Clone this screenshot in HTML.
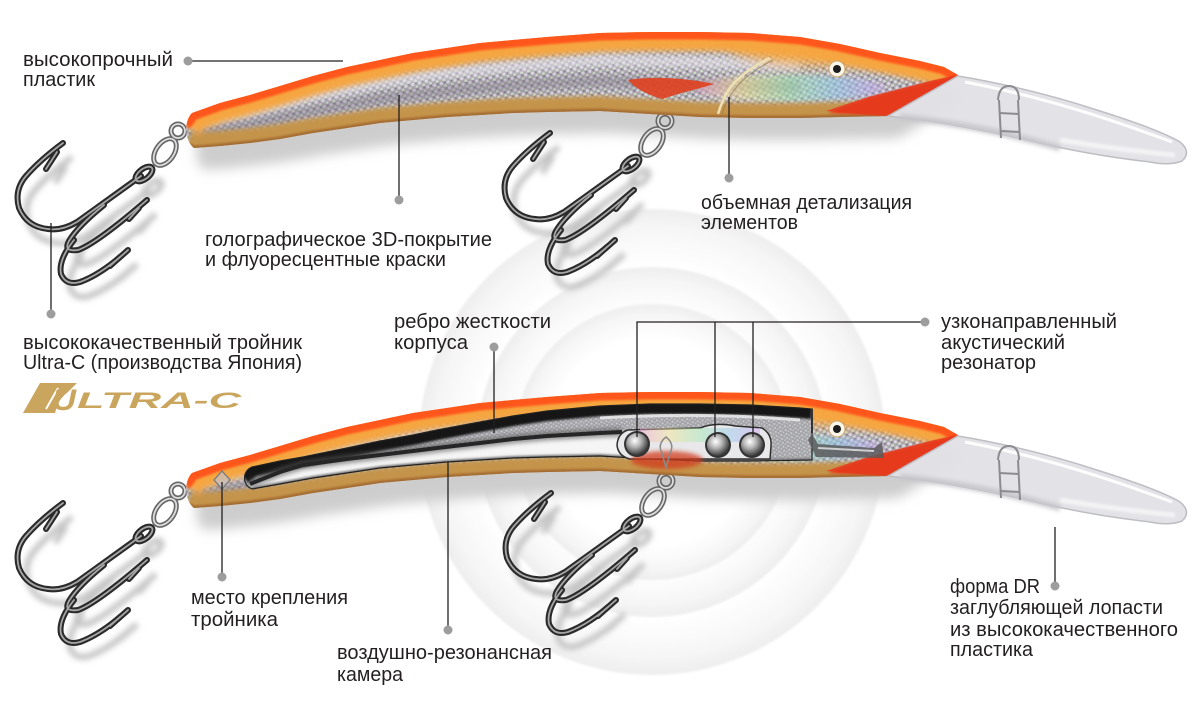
<!DOCTYPE html>
<html><head><meta charset="utf-8">
<style>html,body{margin:0;padding:0;background:#fff;}svg{display:block}</style>
</head><body>
<svg width="1200" height="717" viewBox="0 0 1200 717" xmlns="http://www.w3.org/2000/svg" xmlns:xlink="http://www.w3.org/1999/xlink" font-family="'Liberation Sans', 'DejaVu Sans', sans-serif">
<defs>
  <filter id="b1" filterUnits="userSpaceOnUse" x="-100" y="-100" width="1400" height="917"><feGaussianBlur stdDeviation="1"/></filter>
  <filter id="b2" filterUnits="userSpaceOnUse" x="-100" y="-100" width="1400" height="917"><feGaussianBlur stdDeviation="2"/></filter>
  <filter id="b3" filterUnits="userSpaceOnUse" x="-100" y="-100" width="1400" height="917"><feGaussianBlur stdDeviation="3"/></filter>
  <filter id="b6" filterUnits="userSpaceOnUse" x="-100" y="-100" width="1400" height="917"><feGaussianBlur stdDeviation="6"/></filter>

  <radialGradient id="disc" cx="0.5" cy="0.5" r="0.5">
    <stop offset="0" stop-color="#ffffff"/>
    <stop offset="0.75" stop-color="#ffffff"/>
    <stop offset="0.92" stop-color="#f6f6f6"/>
    <stop offset="1" stop-color="#eeeeee"/>
  </radialGradient>
  <radialGradient id="ball" cx="0.4" cy="0.35" r="0.65">
    <stop offset="0" stop-color="#ffffff"/>
    <stop offset="0.45" stop-color="#b5b5b5"/>
    <stop offset="1" stop-color="#3a3a3a"/>
  </radialGradient>
  <linearGradient id="rainbow" x1="0" x2="1" y1="0" y2="0">
    <stop offset="0" stop-color="#f0a0d0"/>
    <stop offset="0.25" stop-color="#f5e690"/>
    <stop offset="0.5" stop-color="#a0e8b0"/>
    <stop offset="0.75" stop-color="#90c8f0"/>
    <stop offset="1" stop-color="#d0a0f0"/>
  </linearGradient>
  <pattern id="scales" patternUnits="userSpaceOnUse" width="7" height="6" patternTransform="rotate(-14)">
    <rect width="7" height="6" fill="#aaa5ae"/>
    <circle cx="2" cy="2" r="1.6" fill="#dcd8e2"/>
    <circle cx="5.5" cy="5" r="1.5" fill="#cfe0c8"/>
    <circle cx="5.5" cy="1.5" r="1" fill="#7c7684"/>
  </pattern>
  <pattern id="spk" patternUnits="userSpaceOnUse" width="5" height="4" patternTransform="rotate(-10)">
    <rect width="5" height="4" fill="#9a9a9f"/>
    <circle cx="1.5" cy="1.5" r="1" fill="#e8e8ec"/>
    <circle cx="4" cy="3.2" r="0.8" fill="#d8e8d8"/>
  </pattern>

  <path id="body" d="M192,113 L220,103 L250,95 L280,86 L313,76 L347,67 L380,60 L413,53 L447,48 L480,43 L513,40 L547,37 L600,33 L650,32 L700,32 L750,33 L800,37 L840,44 L880,53 L920,61 L944,67 L958,75 L935,88 L908,104 L888,116 L840,117 L800,118 L750,118 L700,117 L650,114 L600,111 L547,112 L513,113 L480,115 L447,117 L413,120 L380,123 L347,128 L313,133 L280,139 L250,143 L220,146 L194,148 C184,140 184,121 192,113 Z"/>
  <path id="topEdge" fill="none" d="M184,124 L192,113 L220,103 L250,95 L280,86 L313,76 L347,67 L380,60 L413,53 L447,48 L480,43 L513,40 L547,37 L600,33 L650,32 L700,32 L750,33 L800,37 L840,44 L880,53 L920,61 L944,67 L960,76"/>
  <path id="botEdge" fill="none" d="M186,144 L194,148 L220,146 L250,143 L280,139 L313,133 L347,128 L380,123 L413,120 L447,117 L480,115 L513,113 L547,112 L600,111 L650,114 L700,117 L750,118 L800,118 L840,117 L888,116"/>
  <path id="f35" fill="none" d="M190,125 L250,112 L313,96 L380,82 L447,72 L513,66 L600,60 L700,62 L800,65"/>
  <path id="f62" fill="none" d="M190,135 L250,125 L313,111 L380,99 L447,91 L513,85 L600,81 L700,85 L800,87"/>
  <path id="lip" d="M958,76 Q1030,88 1100,111 Q1160,130 1180,142 Q1192,152 1182,161 Q1170,166 1150,162 Q1090,155 1040,143 Q985,130 930,121 L888,116 Z"/>

  <clipPath id="bc"><use xlink:href="#body" href="#body"/></clipPath>

  <path id="win" d="M252,107 L280,101 L303,97 L347,88 L380,81 L413,75 L437,70 L480,62 L513,56 L547,51 L600,46 L650,44 L700,44 L750,45 L800,48 L812,49 L812,100 L750,101 L700,101 L650,99 L600,96 L547,97 L513,98 L480,100 L447,102 L413,105 L380,108 L347,113 L313,118 L280,124 L252,129 C242,125 242,111 252,107 Z"/>
  <clipPath id="wc"><use xlink:href="#win" href="#win"/></clipPath>
  <path id="winTop" fill="none" d="M242,115 L252,107 L280,101 L303,97 L347,88 L380,81 L413,75 L437,70 L480,62 L513,56 L547,51 L600,46 L650,44 L700,44 L750,45 L800,48 L812,49"/>
  <path id="winBot" fill="none" d="M252,129 L280,124 L313,118 L347,113 L380,108 L413,105 L447,102 L480,100 L513,98 L547,97 L600,96 L650,99 L700,101 L750,101 L812,100"/>
  <path id="rib" fill="none" d="M250,124 L280,112 L303,105 L347,99 L380,95 L413,91 L437,88 L480,83 L513,79 L547,76 L600,73 L622,72"/>

  <g id="hookPaths" fill="none">
    <path d="M141,176 L77,222 Q62,231 48,229 Q27,227 19,208 Q14,190 26,176 Q40,160 63,143"/>
    <path d="M104,205 Q78,226 69,241 Q63,252 78,250 Q96,244 147,200"/>
    <path d="M74,240 Q58,260 61,274 Q66,286 80,282 Q102,274 128,250"/>
    <path d="M57,152 L46,169"/>
    <path d="M139,208 L129,219"/>
    <path d="M120,257 L110,266"/>
    <ellipse cx="144" cy="174" rx="10" ry="5" transform="rotate(-38 144 174)"/>
  </g>
  <g id="rings" fill="none">
    <circle cx="178" cy="131" r="7"/>
    <ellipse cx="165" cy="152" rx="9" ry="15" transform="rotate(35 165 152)"/>
  </g>
  <g id="hookFull">
    <use xlink:href="#hookPaths" href="#hookPaths" stroke="#c4c4c4" stroke-width="6" transform="translate(9,14)" filter="url(#b3)"/>
    <use xlink:href="#rings" href="#rings" stroke="#666" stroke-width="5"/>
    <use xlink:href="#rings" href="#rings" stroke="#dcdcdc" stroke-width="1.8"/>
    <use xlink:href="#hookPaths" href="#hookPaths" stroke="#2a2a2a" stroke-width="6" stroke-linecap="round"/>
    <use xlink:href="#hookPaths" href="#hookPaths" stroke="#a6a6a6" stroke-width="1.8" stroke-linecap="round"/>
  </g>

  <g id="lureBase">
    <g clip-path="url(#bc)">
      <rect x="170" y="20" width="800" height="140" fill="url(#scales)"/>
      <use xlink:href="#f35" href="#f35" stroke="#e6e2ea" stroke-width="12" filter="url(#b3)" opacity=".6"/>
      <use xlink:href="#f62" href="#f62" stroke="#857e8c" stroke-width="12" filter="url(#b3)" opacity=".5"/>
      <ellipse cx="790" cy="88" rx="95" ry="13" fill="url(#rainbow)" opacity=".55" filter="url(#b3)"/>
      <use xlink:href="#botEdge" href="#botEdge" stroke="#c5944c" stroke-width="30" filter="url(#b2)"/>
      <use xlink:href="#botEdge" href="#botEdge" stroke="#a46c30" stroke-width="5" filter="url(#b1)"/>
      <ellipse cx="840" cy="46" rx="110" ry="20" fill="#ffa838" opacity=".8" filter="url(#b6)"/>
      <use xlink:href="#topEdge" href="#topEdge" stroke="#f6a640" stroke-width="38" filter="url(#b3)"/>
      <use xlink:href="#topEdge" href="#topEdge" stroke="#ff561c" stroke-width="15" filter="url(#b1)"/>
      <path d="M828,113 L868,98 L930,82 L958,75 L950,82 L910,102 L888,116 Z" fill="#e53c1f" filter="url(#b1)"/>
    </g>
    <path d="M826,111 L868,97 L930,81 L958,75 L912,103 L888,116 Z" fill="#e6391d" opacity=".85"/>
    <use xlink:href="#lip" href="#lip" fill="#e2e2e6" fill-opacity=".95" stroke="#bdbec3" stroke-width="1.5"/>
    <path d="M900,117 Q980,125 1060,148" fill="none" stroke="#c6c6cb" stroke-width="6" filter="url(#b2)"/>
    <path d="M965,82 Q1060,100 1172,142" fill="none" stroke="#ffffff" stroke-width="3" opacity=".9"/>
    <path d="M1060,140 Q1120,150 1175,155" fill="none" stroke="#f7f7f7" stroke-width="5" opacity=".8" filter="url(#b1)"/>
    <g fill="none" stroke="#8c8c90" stroke-width="2">
      <path d="M998,100 Q999,86 1009,86 Q1019,86 1019,100"/>
      <path d="M999,100 L1001,138"/>
      <path d="M1018,100 L1020,140"/>
      <path d="M999,113 L1019,114"/>
      <path d="M1000,131 L1020,132"/>
    </g>
    <circle cx="837" cy="69" r="8" fill="#fbf6e8" stroke="#c9a56c" stroke-width="1"/>
    <circle cx="837" cy="69" r="4" fill="#1d1d1d"/>
  </g>
</defs>

<rect width="1200" height="717" fill="#ffffff"/>

<!-- background discs -->
<g filter="url(#b1)">
  <circle cx="652" cy="442" r="233" fill="url(#disc)"/>
  <circle cx="652" cy="442" r="175" fill="url(#disc)"/>
  <circle cx="652" cy="442" r="138" fill="url(#disc)"/>
</g>

<!-- lure shadows -->
<use xlink:href="#body" href="#body" fill="#cdcdcd" transform="translate(10,22)" filter="url(#b6)"/>
<use xlink:href="#body" href="#body" fill="#cdcdcd" transform="translate(10,382)" filter="url(#b6)"/>

<!-- hooks -->
<use xlink:href="#hookFull" href="#hookFull"/>
<use xlink:href="#hookFull" href="#hookFull" transform="translate(487,-10)"/>
<use xlink:href="#hookFull" href="#hookFull" transform="translate(0,360)"/>
<use xlink:href="#hookFull" href="#hookFull" transform="translate(488,350)"/>

<!-- top lure -->
<use xlink:href="#lureBase" href="#lureBase"/>
<path d="M628,80 C650,76 688,78 714,84 C698,89 680,93 662,99 C648,95 636,89 628,80 Z" fill="#e0401e" opacity=".9"/>
<path d="M770,58 Q742,72 730,88 Q722,100 718,114" fill="none" stroke="#efe0b4" stroke-width="2.5"/>
<path d="M773,60 Q746,74 734,90 Q726,101 722,114" fill="none" stroke="#8f7a4c" stroke-width="1" opacity=".7"/>

<!-- lower lure -->
<g transform="translate(0,360)">
  <use xlink:href="#lureBase" href="#lureBase"/>
  <g clip-path="url(#wc)">
    <rect x="230" y="30" width="600" height="110" fill="#b0b0b5"/>
    <rect x="230" y="30" width="600" height="110" fill="url(#spk)" opacity=".55"/>
    <path d="M250,124 L280,112 L303,105 L347,99 L380,95 L413,91 L437,88 L480,83 L513,79 L547,76 L600,73 L622,72 L622,97 L600,96 L547,97 L513,98 L480,100 L447,102 L413,105 L380,108 L347,113 L313,118 L280,124 L252,129 Z" fill="#f5f5f5" filter="url(#b1)"/>
    <use xlink:href="#winTop" href="#winTop" stroke="#121212" stroke-width="20" filter="url(#b1)"/>
    <use xlink:href="#rib" href="#rib" stroke="#555" stroke-width="9" filter="url(#b2)" opacity=".6"/>
    <use xlink:href="#rib" href="#rib" stroke="#262626" stroke-width="4"/>
    <use xlink:href="#winBot" href="#winBot" stroke="#7a7a7a" stroke-width="4" filter="url(#b1)"/>
    <path d="M600,58 Q700,52 800,60" fill="none" stroke="#f0f0f0" stroke-width="3" opacity=".8"/>
  </g>
  <use xlink:href="#win" href="#win" fill="none" stroke="#222" stroke-width="1.2"/>
  <!-- tail attach point -->
  <polygon points="214,120 222,111 230,120 222,129" fill="#c4c0c8" fill-opacity=".7" stroke="#7a7a7a" stroke-width="1.3"/>
  <!-- chamber -->
  <path d="M628,70 L700,68 Q715,62 735,66 L762,68 Q772,74 771,86 L770,99 L630,99 Q618,96 617,85 Q618,73 628,70 Z" fill="#e8e8ea" stroke="#2f2f2f" stroke-width="1.5"/>
  <rect x="640" y="68" width="120" height="14" fill="url(#rainbow)" opacity=".45"/>
  <ellipse cx="667" cy="100" rx="36" ry="9" fill="#d23a1c" opacity=".75" filter="url(#b2)"/>
  <path d="M666,77 Q657,84 662,93 L666,108 L670,93 Q675,84 666,77 Z" fill="none" stroke="#8a8a8a" stroke-width="1.5"/>
  <circle cx="637" cy="84" r="13" fill="#333"/>
  <circle cx="718" cy="85" r="13" fill="#333"/>
  <circle cx="752" cy="85" r="13" fill="#333"/>
  <circle cx="637" cy="84" r="11" fill="url(#ball)"/>
  <circle cx="718" cy="85" r="11" fill="url(#ball)"/>
  <circle cx="752" cy="85" r="11" fill="url(#ball)"/>
  <!-- head slot -->
  <path d="M812,49 L812,73" stroke="#333" stroke-width="2"/>
  <path d="M808,80 L812,74 L818,84 L874,88 L882,82 L884,98 L816,97 Z" fill="#5a5a5a" opacity=".85"/>
  <path d="M818,88 L874,91" stroke="#d0d0d0" stroke-width="2"/>
</g>

<!-- connector lines -->
<g stroke="#231f20" stroke-width="1.3" fill="none">
  <path d="M192,61 H343"/>
  <path d="M399,95 V196"/>
  <path d="M729,97 V174"/>
  <path d="M51,223 V310"/>
  <path d="M494,351 V433"/>
  <path d="M222,482 V573"/>
  <path d="M448,462 V626"/>
  <path d="M637,437 V322 H921"/>
  <path d="M715,322 V437"/>
  <path d="M753,322 V437"/>
  <path d="M1055,527 V582"/>
</g>
<g fill="#9d9d9d">
  <circle cx="188" cy="61" r="4.5"/>
  <circle cx="399" cy="200" r="4.5"/>
  <circle cx="729" cy="178" r="4.5"/>
  <circle cx="51" cy="314" r="4.5"/>
  <circle cx="494" cy="347" r="4.5"/>
  <circle cx="222" cy="577" r="4.5"/>
  <circle cx="448" cy="630" r="4.5"/>
  <circle cx="925" cy="322" r="4.5"/>
  <circle cx="1055" cy="586" r="4.5"/>
</g>

<!-- labels -->
<g fill="#231f20" font-size="20" font-family="'Liberation Sans', 'DejaVu Sans', sans-serif">
  <text x="23" y="66" textLength="150" lengthAdjust="spacingAndGlyphs">высокопрочный</text>
  <text x="23" y="86" textLength="72" lengthAdjust="spacingAndGlyphs">пластик</text>
  <text x="205" y="246" textLength="287" lengthAdjust="spacingAndGlyphs">голографическое 3D-покрытие</text>
  <text x="205" y="266" textLength="241" lengthAdjust="spacingAndGlyphs">и флуоресцентные краски</text>
  <text x="701" y="209" textLength="211" lengthAdjust="spacingAndGlyphs">объемная детализация</text>
  <text x="701" y="229" textLength="97" lengthAdjust="spacingAndGlyphs">элементов</text>
  <text x="23" y="349" textLength="279" lengthAdjust="spacingAndGlyphs">высококачественный тройник</text>
  <text x="23" y="369" textLength="279" lengthAdjust="spacingAndGlyphs">Ultra-C (производства Япония)</text>
  <text x="394" y="328" textLength="157" lengthAdjust="spacingAndGlyphs">ребро жесткости</text>
  <text x="394" y="349" textLength="74" lengthAdjust="spacingAndGlyphs">корпуса</text>
  <text x="191" y="604" textLength="157" lengthAdjust="spacingAndGlyphs">место крепления</text>
  <text x="191" y="626" textLength="87" lengthAdjust="spacingAndGlyphs">тройника</text>
  <text x="337" y="659" textLength="215" lengthAdjust="spacingAndGlyphs">воздушно-резонансная</text>
  <text x="337" y="681" textLength="66" lengthAdjust="spacingAndGlyphs">камера</text>
  <text x="941" y="328" textLength="176" lengthAdjust="spacingAndGlyphs">узконаправленный</text>
  <text x="941" y="349" textLength="124" lengthAdjust="spacingAndGlyphs">акустический</text>
  <text x="941" y="369" textLength="95" lengthAdjust="spacingAndGlyphs">резонатор</text>
  <text x="950" y="593" textLength="90" lengthAdjust="spacingAndGlyphs">форма DR</text>
  <text x="950" y="614" textLength="213" lengthAdjust="spacingAndGlyphs">заглубляющей лопасти</text>
  <text x="950" y="636" textLength="228" lengthAdjust="spacingAndGlyphs">из высококачественного</text>
  <text x="950" y="656" textLength="83" lengthAdjust="spacingAndGlyphs">пластика</text>
</g>

<!-- ULTRA-C logo -->
<path d="M40,383 L77,383 L68,392 Q60,398 57,406 L55,413 L23,413 Z" fill="#c9a55e"/>
<path d="M58,388 L46,409" stroke="#ffffff" stroke-width="2"/>
<text fill="#c9a55e" font-weight="bold" font-style="italic" font-family="'Liberation Sans', 'DejaVu Sans', sans-serif"><tspan x="52" y="410" font-size="30" textLength="24" lengthAdjust="spacingAndGlyphs">U</tspan><tspan x="77" y="408" font-size="22" textLength="164" lengthAdjust="spacingAndGlyphs">LTRA-C</tspan></text>
</svg>
</body></html>
